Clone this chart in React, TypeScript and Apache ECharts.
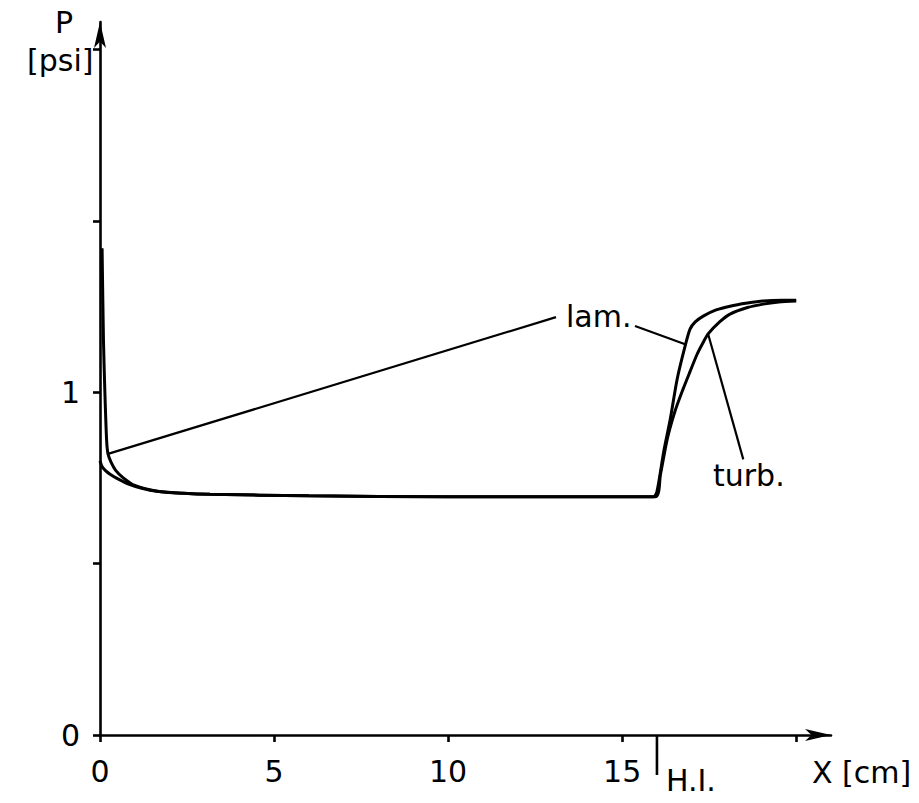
import React, { useEffect, useRef } from "react";
import * as echarts from "echarts";

// Wall pressure along the channel, laminar vs turbulent boundary layer
const lamPressure: [number, number][] = [
  [0.06, 1.42], [0.1, 1.15], [0.14, 1.0], [0.19, 0.86], [0.23, 0.82],
  [0.32, 0.795], [0.45, 0.772], [0.66, 0.751], [1.0, 0.728], [1.64, 0.711],
  [2.4, 0.705], [3.16, 0.702], [6, 0.698], [10, 0.695], [13, 0.695],
  [15.9, 0.695], [16.0, 0.71], [16.2, 0.83], [16.38, 0.92], [16.58, 1.038],
  [16.81, 1.135], [16.95, 1.184], [17.1, 1.205], [17.33, 1.222], [17.7, 1.24],
  [18.1, 1.251], [18.6, 1.26], [19.05, 1.266], [19.6, 1.268], [20.0, 1.268],
];

const turbPressure: [number, number][] = [
  [0, 0.8], [0.05, 0.785], [0.15, 0.772], [0.3, 0.76], [0.5, 0.748],
  [0.8, 0.733], [1.2, 0.72], [1.64, 0.711], [2.4, 0.705], [3.16, 0.702],
  [6, 0.698], [10, 0.695], [13, 0.695], [15.95, 0.695], [16.1, 0.76],
  [16.3, 0.865], [16.52, 0.945], [16.75, 1.009], [16.95, 1.06], [17.15, 1.11],
  [17.3, 1.14], [17.47, 1.17], [17.8, 1.205], [18.1, 1.228], [18.6, 1.247],
  [19.05, 1.257], [19.5, 1.263], [20.0, 1.266],
];

// Leader lines from the curve labels
const lamLeaderStart: [number, number][] = [[0.23, 0.82], [13.1, 1.219]];
const lamLeaderRise: [number, number][] = [[15.37, 1.193], [16.81, 1.14]];
const turbLeader: [number, number][] = [[17.47, 1.17], [18.48, 0.804]];

const xTicks = [0, 5, 10, 15, 20];
const xTickLabels = [0, 5, 10, 15];
const yTicks = [0, 0.5, 1, 1.5, 2];
const yTickLabels = [0, 1];
const hiPosition = 16;

const FONT = "DejaVu Sans";
const FONT_SIZE = 30;
const INK = "#000";

export default function App() {
  const ref = useRef<HTMLDivElement>(null);

  useEffect(() => {
    if (!ref.current) return;
    const chart = echarts.init(ref.current, undefined, { renderer: "svg" });

    const curve = (name: string, data: [number, number][]) => ({
      name,
      type: "line",
      data,
      smooth: 0.25,
      showSymbol: false,
      lineStyle: { color: INK, width: 3 },
      clip: false,
    });
    const leader = (data: [number, number][]) => ({
      type: "line",
      data,
      showSymbol: false,
      lineStyle: { color: INK, width: 2.2 },
      clip: false,
    });

    const axisLineStyle = { color: INK, width: 2.6 };
    const labelStyle = { color: INK, fontFamily: FONT, fontSize: FONT_SIZE };

    chart.setOption({
      animation: false,
      backgroundColor: "#fff",
      grid: { left: 100, right: 88, top: 22, bottom: 68 },
      xAxis: {
        type: "value",
        min: 0,
        max: 21,
        interval: 5,
        splitLine: { show: false },
        axisLine: {
          lineStyle: axisLineStyle,
          symbol: ["none", "arrow"],
          symbolSize: [9, 26],
        },
        axisTick: { length: 7, lineStyle: axisLineStyle, customValues: xTicks },
        axisLabel: { ...labelStyle, margin: 21, customValues: xTickLabels },
      },
      yAxis: {
        type: "value",
        min: 0,
        max: 2.08,
        interval: 0.5,
        splitLine: { show: false },
        axisLine: {
          lineStyle: axisLineStyle,
          symbol: ["none", "arrow"],
          symbolSize: [9, 26],
        },
        axisTick: { length: 7, lineStyle: axisLineStyle, customValues: yTicks },
        axisLabel: { ...labelStyle, margin: 20, customValues: yTickLabels },
      },
      series: [
        curve("lam.", lamPressure),
        curve("turb.", turbPressure),
        leader(lamLeaderStart),
        leader(lamLeaderRise),
        leader(turbLeader),
      ],
    });

    const [hiX, axisY] = chart.convertToPixel({ gridIndex: 0 }, [hiPosition, 0]) as number[];
    const txt = (text: string, x: number, y: number) => ({
      type: "text",
      x,
      y,
      style: {
        text,
        fill: INK,
        font: `${FONT_SIZE}px "${FONT}"`,
        textAlign: "left",
        textVerticalAlign: "middle",
      },
    });

    chart.setOption({
      graphic: [
        {
          type: "line",
          shape: { x1: hiX, y1: axisY, x2: hiX, y2: axisY + 40 },
          style: { stroke: INK, lineWidth: 2.6 },
        },
        txt("H.I.", hiX + 9, axisY + 45),
        txt("X [cm]", 812, axisY + 37),
        txt("P", 55, 22),
        txt("[psi]", 27, 60),
        txt("lam.", 566, 316),
        txt("turb.", 713, 475),
      ],
    });

    return () => chart.dispose();
  }, []);

  return (
    <div
      ref={ref}
      style={{
        position: "fixed",
        left: 0,
        top: 0,
        width: 919,
        height: 803,
        background: "#fff",
      }}
    />
  );
}
